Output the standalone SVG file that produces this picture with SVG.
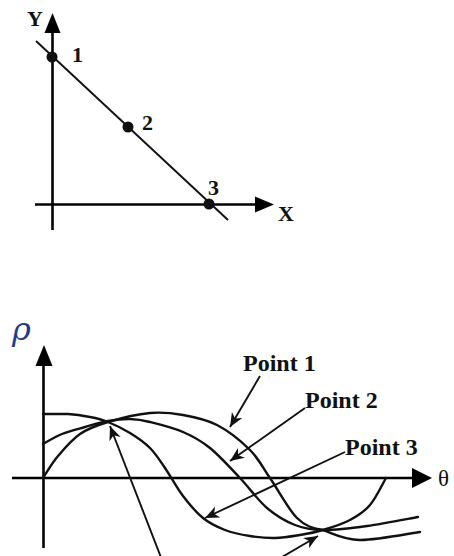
<svg xmlns="http://www.w3.org/2000/svg" width="454" height="556" viewBox="0 0 454 556">
  <style>
    .ax { stroke: #000; stroke-width: 2.6; fill: none; }
    .ln { stroke: #111; stroke-width: 1.9; fill: none; }
    .cv { stroke: #111; stroke-width: 2.4; fill: none; stroke-linecap: round; }
    .ptr { stroke: #111; stroke-width: 1.9; fill: none; }
    .head { fill: #000; }
    .lbl { font-family: "Liberation Serif", "Times New Roman", serif; font-weight: bold; fill: #111; }
    .plbl { font-family: "Liberation Serif", "Times New Roman", serif; font-weight: bold; font-size: 24px; fill: #111; }
  </style>
  <defs>
    <marker id="arr" markerUnits="userSpaceOnUse" markerWidth="16" markerHeight="14" refX="14" refY="6" orient="auto">
      <path d="M0,0 L14,6 L0,12 L4,6 Z" fill="#111"/>
    </marker>
  </defs>
  <rect width="454" height="556" fill="#fff"/>

  <!-- Top diagram -->
  <g id="top-axes">
    <line class="ax" x1="52.5" y1="230" x2="52.5" y2="30"/>
    <polygon class="head" points="52.5,13 44.5,33 60.5,33"/>
    <line class="ax" x1="35" y1="204.5" x2="257" y2="204.5"/>
    <polygon class="head" points="274,204.5 255,196.5 255,212.5"/>
    <text class="lbl" x="27" y="26" font-size="22">Y</text>
    <text class="lbl" x="278" y="221" font-size="22">X</text>
  </g>
  <g id="top-line">
    <line class="ln" x1="36" y1="41" x2="228" y2="220"/>
  </g>
  <g id="point1">
    <circle cx="52" cy="57" r="5.5" fill="#111"/>
    <text class="lbl" x="72" y="62" font-size="22">1</text>
  </g>
  <g id="point2">
    <circle cx="128" cy="127" r="5.5" fill="#111"/>
    <text class="lbl" x="142" y="130" font-size="22">2</text>
  </g>
  <g id="point3">
    <circle cx="209" cy="204" r="5.5" fill="#111"/>
    <text class="lbl" x="208" y="195" font-size="22">3</text>
  </g>

  <!-- Bottom diagram -->
  <g id="bottom-axes">
    <line class="ax" x1="43.5" y1="548" x2="43.5" y2="362"/>
    <polygon class="head" points="44,345 35.5,366 52.5,366"/>
    <line class="ax" x1="12" y1="478" x2="415" y2="478"/>
    <polygon class="head" points="432,478 412,468 412,488"/>
    <text x="12" y="340" font-family="DejaVu Serif, Liberation Serif, serif" font-style="italic" font-size="32" fill="#243a8c">ρ</text>
    <text x="438" y="486" font-family="Liberation Serif, serif" font-size="23" fill="#111">θ</text>
  </g>

  <g id="curve-point1">
    <path class="cv" d="M43,478 C45.5,474.3 51.8,463.3 58,456 C64.2,448.7 71.7,439.7 80,434 C88.3,428.3 96.3,425.5 108,422 C119.7,418.5 137.5,414.2 150,413 C162.5,411.8 171.8,413 183,415 C194.2,417 205.8,419.2 217,425 C228.2,430.8 241.2,441.2 250,450 C258.8,458.8 262.2,466.7 270,478 C277.8,489.3 288.2,509.3 297,518 C305.8,526.7 312.5,528 323,530 C333.5,533.7 343.8,539.7 360,540 C376.2,540.3 410,533.3 420,532"/>
  </g>
  <g id="curve-point2">
    <path class="cv" d="M43,444 C46.2,442.3 55,436.8 62,434 C69,431.2 77.3,429.2 85,427 C92.7,424.8 100.5,422.3 108,421 C115.5,419.7 123,418.8 130,419 C137,419.2 141.2,419.8 150,422 C158.8,424.2 173,427.7 183,432 C193,436.3 200.5,440.3 210,448 C219.5,455.7 230.5,468 240,478 C249.5,488 257.8,500.2 267,508 C276.2,515.8 285.7,521.3 295,525 C304.3,528.7 311,529.8 323,530 C335,530.2 351.2,528.2 367,526 C382.8,523.8 409.5,518.5 418,517"/>
  </g>
  <g id="curve-point3">
    <path class="cv" d="M43,414 L68,414 C75.8,414.5 83.3,415.7 90,417 C96.7,418.3 101.3,419.3 108,422 C114.7,424.7 123,428.7 130,433 C137,437.3 144.2,442.2 150,448 C155.8,453.8 159.5,460 165,468 C170.5,476 176.7,487.7 183,496 C189.3,504.3 196,512.3 203,518 C210,523.7 217.2,527 225,530 C232.8,533 241.7,534.7 250,536 C258.3,537.3 266.7,538.2 275,538 C283.3,537.8 292,536.3 300,535 C308,533.7 314.7,532.5 323,530 C331.3,527.5 342.2,524.2 350,520 C357.8,515.8 364,512 370,505 C376,498 383.3,482.5 386,478"/>
  </g>

  <g id="labels">
    <text class="plbl" x="243" y="371">Point 1</text>
    <text class="plbl" x="305" y="408">Point 2</text>
    <text class="plbl" x="345" y="455">Point 3</text>
  </g>

  <g id="connectors">
    <line class="ptr" x1="260" y1="376" x2="230" y2="427" marker-end="url(#arr)"/>
    <line class="ptr" x1="305" y1="408" x2="230" y2="461" marker-end="url(#arr)"/>
    <line class="ptr" x1="345" y1="452" x2="205" y2="518" marker-end="url(#arr)"/>
    <line class="ptr" x1="162" y1="560" x2="110" y2="426" marker-end="url(#arr)"/>
    <line class="ptr" x1="277" y1="560" x2="318" y2="536" marker-end="url(#arr)"/>
  </g>
</svg>
